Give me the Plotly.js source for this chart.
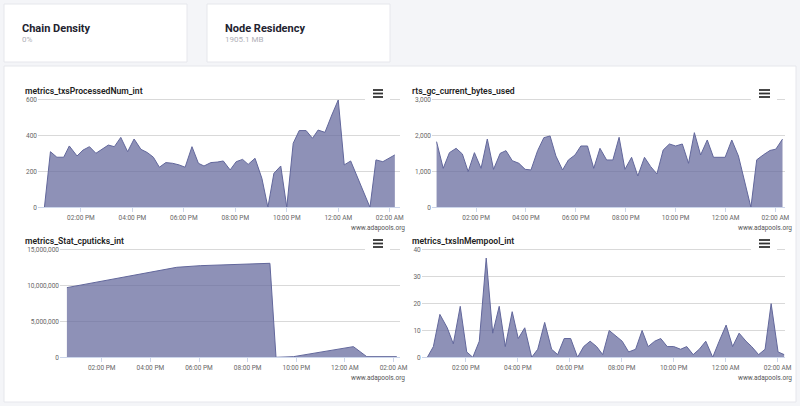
<!DOCTYPE html>
<html>
<head>
<meta charset="utf-8">
<script src="https://cdn.plot.ly/plotly-3.0.1.min.js"></script>
<style>
html,body{margin:0;padding:0;background:#f4f5f8;}
#chart{width:800px;height:406px;}
</style>
</head>
<body>
<div id="chart"></div>
<script>
// ---- data ----
const cardTitles = ["Chain Density", "Node Residency"];
const cardValues = ["0%", "1905.1 MB"];

const chartTitles = ["metrics_txsProcessedNum_int", "rts_gc_current_bytes_used", "metrics_Stat_cputicks_int", "metrics_txsInMempool_int"];
const creditText = "www.adapools.org";

const t1 = ["12:35","12:49","13:04","13:20","13:33","13:51","14:05","14:20","14:35","14:49","15:04","15:18","15:33","15:49","16:04","16:20","16:35","16:49","17:03","17:18","17:34","17:49","18:03","18:19","18:34","18:47","19:03","19:18","19:32","19:48","20:02","20:17","20:30","20:46","21:02","21:16","21:30","21:46","22:00","22:15","22:29","22:45","23:00","23:13","23:29","23:45","00:00","00:14","00:29","01:14","01:28","01:44","01:59","02:12"];
const txsProcessed = [0,311,280,280,343,287,320,339,302,324,348,339,391,311,382,324,306,280,224,250,246,237,224,339,246,231,250,253,259,209,255,268,240,274,162,0,190,231,0,358,429,429,386,432,419,516,600,237,259,0,265,255,274,293];

const t2 = ["12:25","12:41","12:56","13:12","13:27","13:41","13:56","14:12","14:27","14:42","14:58","15:12","15:27","15:43","15:58","16:12","16:28","16:43","16:58","17:12","17:28","17:42","17:58","18:12","18:28","18:43","18:58","19:14","19:29","19:44","19:58","20:14","20:29","20:45","21:00","21:15","21:30","21:45","22:00","22:16","22:31","22:45","23:00","23:16","23:31","23:59","00:15","00:31","01:01","01:15","01:31","01:47","02:01","02:17"];
const gcBytes = [1835,1090,1528,1649,1491,997,1528,1090,1910,1062,1509,1584,1304,1230,1062,1044,1584,1947,1994,1435,1044,1323,1463,1714,1714,1090,1649,1323,1323,1957,1062,1398,876,1398,1137,932,1602,1770,1714,1770,1230,2087,1463,1882,1398,1398,1882,1435,0,1327,1467,1589,1626,1907];

const t3 = ["12:34","14:00","15:59","17:05","18:03","19:25","20:55","21:10","21:53","00:21","00:54","02:08"];
const cpuTicks = [9740000,10670000,11880000,12580000,12810000,13000000,13140000,0,90000,1490000,90000,90000];

const t4 = ["12:31","12:45","13:00","13:17","13:31","13:47","14:02","14:16","14:31","14:47","15:02","15:17","15:31","15:47","16:01","16:16","16:32","16:46","17:02","17:18","17:32","17:47","18:02","18:18","18:32","18:47","19:02","19:16","19:31","19:47","20:01","20:16","20:32","20:47","21:01","21:16","21:30","21:45","22:00","22:16","22:30","22:45","22:59","23:14","23:30","23:45","00:01","00:16","00:31","00:47","01:00","01:16","01:31","01:45","02:01","02:15"];
const mempool = [0,4,16,11,5,19,2,0,6,37,9,19,4,17,7,11,0,3,13,3,1,7,7,0,4,6,4,1,10,8,6,2,3,10,4,6,7,4,4,3,4,1,3,6,0,6,12,4,9,6,4,1,3,20,2,1];

// ---- helpers ----
const DAY1 = "2021-03-10", DAY2 = "2021-03-11";
function stamp(hm){ const h = parseInt(hm.slice(0,2),10); return (h >= 12 ? DAY1 : DAY2) + " " + hm; }

const W = 800, H = 406;
const px = x => x / W;
const py = y => 1 - y / H;

const lineCol = "rgb(98,103,155)";
const fillCol = "rgba(98,103,155,0.72)";
function area(t, v, n){
  return {x: t.map(stamp), y: v, type: "scatter", mode: "lines", fill: "tozeroy",
    line: {color: lineCol, width: 1}, fillcolor: fillCol,
    xaxis: "x" + (n === 1 ? "" : n), yaxis: "y" + (n === 1 ? "" : n), hoverinfo: "x+y"};
}
const data = [area(t1, txsProcessed, 1), area(t2, gcBytes, 2), area(t3, cpuTicks, 3), area(t4, mempool, 4)];

const tickFont = {family: "Roboto, sans-serif", size: 6.5, color: "#666"};
function xax(x0, x1, yAnchor, r0, r1){
  return {domain: [px(x0), px(x1)], anchor: yAnchor, type: "date",
    range: [stamp(r0), stamp(r1)], tickformat: "%I:%M %p", tick0: DAY1 + " 00:00", dtick: 7200000,
    showgrid: false, showline: true, linecolor: "#ccd6eb", linewidth: 1,
    ticks: "outside", ticklen: 4, tickcolor: "#ccd6eb", tickfont: tickFont, zeroline: false, fixedrange: true};
}
const HEAD = 0.025; // headroom so the grid line at the top tick is not clipped away
function yax(y0, y1, xAnchor, max, dt){
  const extra = (y1 - y0) * HEAD;
  return {domain: [py(y1), py(y0 - extra)], anchor: xAnchor, range: [0, max * (1 + HEAD)], dtick: dt, tickformat: ",d",
    showgrid: true, gridcolor: "#d9d9d9", gridwidth: 1, zeroline: false, showline: false,
    ticks: "", tickfont: tickFont, fixedrange: true};
}

const shapes = [];
function rect(x0, y0, x1, y1, fill, lc, layer){
  shapes.push({type: "rect", xref: "paper", yref: "paper", x0: px(x0), x1: px(x1), y0: py(y1), y1: py(y0),
    fillcolor: fill, line: {color: lc, width: lc ? 1 : 0}, layer: layer});
}
// cards and panel
rect(4, 4, 187, 62, "#ffffff", "#e6e7ec", "below");
rect(207, 4, 390, 62, "#ffffff", "#e6e7ec", "below");
rect(4, 66, 796, 402, "#ffffff", "#e6e7ec", "below");
// menu buttons
function menu(xl, xr, yTop){
  rect(xl - 8, yTop + 4, xr + 7, yTop + 12, "#ffffff", null, "above");
  [0, 3.5, 7].forEach(d => shapes.push({type: "line", xref: "paper", yref: "paper",
    x0: px(xl), x1: px(xr), y0: py(yTop + d), y1: py(yTop + d), line: {color: "#333", width: 1.8}, layer: "above"}));
}
menu(373, 383, 90);
menu(759, 770, 90);
menu(373, 383, 240);
menu(759, 770, 240);

const annotations = [];
function txt(x, y, s, size, color, weight, anchor){
  annotations.push({xref: "paper", yref: "paper", x: px(x), y: py(y), text: s, showarrow: false,
    xanchor: anchor || "left", yanchor: "middle", borderpad: 0,
    font: {family: "Roboto, sans-serif", size: size, color: color, weight: weight || "normal"}});
}
txt(21, 28, cardTitles[0], 11, "#23232f", "bold");
txt(21, 39, cardValues[0], 8, "#b0b0b8");
txt(223.5, 28, cardTitles[1], 11, "#23232f", "bold");
txt(223.5, 39, cardValues[1], 8, "#b0b0b8");

txt(24, 91, chartTitles[0], 8.6, "#222", 600);
txt(410.5, 91, chartTitles[1], 8.6, "#222", 600);
txt(24, 241, chartTitles[2], 8.6, "#222", 600);
txt(410.5, 241, chartTitles[3], 8.6, "#222", 600);

txt(406, 228, creditText, 6.5, "#555", "normal", "right");
txt(793, 228, creditText, 6.5, "#555", "normal", "right");
txt(406, 378, creditText, 6.5, "#555", "normal", "right");
txt(793, 378, creditText, 6.5, "#555", "normal", "right");

const layout = {
  width: W, height: H, margin: {l: 0, r: 0, t: 0, b: 0},
  paper_bgcolor: "#f4f5f8", plot_bgcolor: "rgba(0,0,0,0)", showlegend: false,
  font: {family: "Roboto, sans-serif"},
  xaxis:  xax(38, 400, "y",  "12:20", "02:24"),
  yaxis:  yax(100, 207.3, "x",  600, 200),
  xaxis2: xax(432, 785, "y2", "12:14", "02:23"),
  yaxis2: yax(100, 207.3, "x2", 3000, 1000),
  xaxis3: xax(60, 400, "y3",  "12:17", "02:16"),
  yaxis3: yax(250, 357.3, "x3", 15000000, 5000000),
  xaxis4: xax(421.7, 785, "y4", "12:18", "02:17"),
  yaxis4: yax(250, 357.3, "x4", 40, 10),
  shapes: shapes, annotations: annotations
};

Plotly.newPlot("chart", data, layout, {displayModeBar: false, staticPlot: true});
</script>
</body>
</html>
